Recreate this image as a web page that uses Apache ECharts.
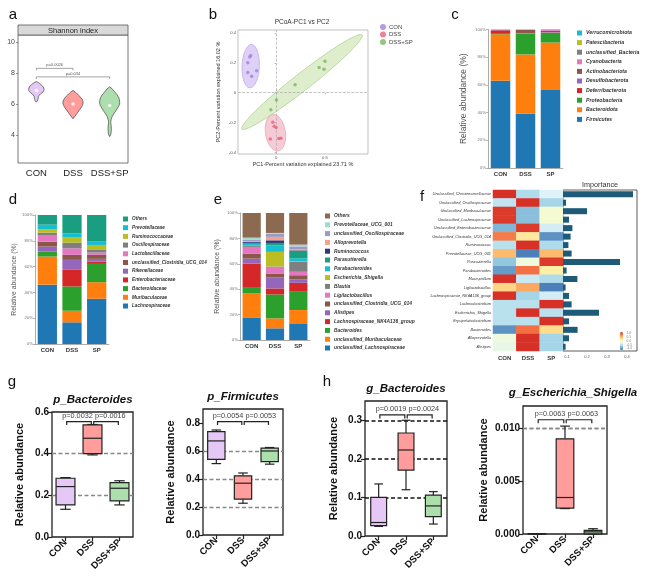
<!DOCTYPE html>
<html><head><meta charset="utf-8">
<script src="https://cdn.jsdelivr.net/npm/echarts@6/dist/echarts.min.js"></script>
<style>
html,body{margin:0;padding:0;background:#fff;width:651px;height:576px;overflow:hidden}
.p{position:absolute;left:0;top:0;width:651px;height:576px}
</style></head>
<body>
<div id="pa" class="p"></div><div id="pb" class="p"></div><div id="pc" class="p"></div>
<div id="pd" class="p"></div><div id="pe" class="p"></div><div id="pf" class="p"></div>
<div id="pg" class="p"></div><div id="ph" class="p"></div>
<script>
// ---------------- DATA ----------------
const groups = ['CON', 'DSS', 'DSS+SP'];
const barGroups = ['CON', 'DSS', 'SP'];

// a: Shannon violins, profile = [value, half-width (fraction of band)]
const shannonCON = [[6.12,0],[6.2,0.03],[6.35,0.05],[6.5,0.06],[6.65,0.11],[6.8,0.19],[6.95,0.21],[7.1,0.19],[7.25,0.13],[7.38,0.06],[7.45,0]];
const shannonDSS = [[5.05,0],[5.2,0.05],[5.4,0.11],[5.6,0.17],[5.8,0.23],[6.0,0.27],[6.2,0.27],[6.4,0.22],[6.6,0.14],[6.75,0.07],[6.88,0]];
const shannonSP = [[3.9,0],[4.0,0.025],[4.2,0.04],[4.4,0.045],[4.6,0.04],[4.8,0.03],[5.0,0.04],[5.2,0.07],[5.4,0.12],[5.6,0.18],[5.8,0.23],[6.0,0.27],[6.2,0.27],[6.4,0.25],[6.6,0.2],[6.8,0.13],[7.0,0.06],[7.1,0]];
const shannonMedians = [6.88, 6.0, 5.9];
const shannonTicks = [4, 6, 8, 10];
const shannonBrackets = [[0, 1, 8.3, 'p=0.0026'], [0, 2, 7.75, 'p=0.034']];

// b: PCoA
const pcoaCON = [[-0.27,0.24],[-0.26,0.25],[-0.29,0.20],[-0.29,0.135],[-0.25,0.11],[-0.20,0.147]];
const pcoaDSS = [[-0.034,-0.198],[-0.02,-0.225],[0.0,-0.232],[-0.06,-0.309],[0.027,-0.307],[0.05,-0.305]];
const pcoaSP = [[-0.054,-0.113],[0.003,-0.049],[0.194,0.053],[0.44,0.169],[0.49,0.158],[0.50,0.211]];
// ellipses: centre, major half-axis vector, minor half-axis vector (data units)
const ellipseCON = [[-0.26,0.178],[0.01,0.145],[0.088,-0.004]];
const ellipseDSS = [[-0.007,-0.267],[-0.03,0.122],[0.1,0.012]];
const ellipseSP = [[0.265,0.072],[0.615,0.315],[0.053,-0.045]];
const pcoaXTicks = [0, 0.5];
const pcoaYTicks = [-0.4, -0.2, 0, 0.2, 0.4];

// c: phylum
const phylumNames = ['Firmicutes','Bacteroidota','Proteobacteria','Deferribacterota','Desulfobacterota','Actinobacteriota','Cyanobacteria','unclassified_Bacteria','Patescibacteria','Verrucomicrobiota'];
const phylumValues = [
  [63.0, 39.1, 56.4],
  [33.5, 42.9, 34.2],
  [0.4, 14.9, 7.0],
  [2.5, 0.3, 0.2],
  [0.2, 0.3, 0.3],
  [0.2, 2.2, 0.9],
  [0.1, 0.1, 0.6],
  [0.1, 0.2, 0.4],
  [0, 0, 0],
  [0, 0, 0]
];

// d: family
const familyNames = ['Lachnospiraceae','Muribaculaceae','Bacteroidaceae','Enterobacteriaceae','Rikenellaceae','unclassified_Clostridia_UCG_014','Lactobacillaceae','Oscillospiraceae','Ruminococcaceae','Prevotellaceae','Others'];
const familyValues = [
  [46.0, 16.8, 35.1],
  [21.8, 9.0, 12.8],
  [3.8, 18.8, 14.2],
  [0.3, 12.9, 1.8],
  [3.6, 7.7, 2.1],
  [3.9, 3.9, 3.1],
  [4.6, 5.1, 1.8],
  [2.3, 4.4, 2.0],
  [2.6, 3.9, 3.9],
  [3.6, 3.3, 2.6],
  [7.5, 14.2, 20.6]
];

// e: genus
const genusNames = ['unclassified_Lachnospiraceae','unclassified_Muribaculaceae','Bacteroides','Lachnospiraceae_NK4A136_group','Alistipes','unclassified_Clostridia_UCG_014','Ligilactobacillus','Blautia','Escherichia_Shigella','Parabacteroides','Parasutterella','Ruminococcus','Alloprevotella','unclassified_Oscillospiraceae','Prevotellaceae_UCG_001','Others'];
const genusValues = [
  [17.8, 9.2, 12.6],
  [18.8, 7.8, 11.0],
  [4.5, 18.9, 14.4],
  [19.1, 4.7, 7.0],
  [3.9, 8.6, 2.6],
  [4.0, 3.2, 3.4],
  [5.2, 5.2, 2.7],
  [0.8, 0.3, 7.8],
  [0.1, 11.5, 0.3],
  [1.5, 5.2, 2.6],
  [0.8, 1.8, 5.8],
  [0.7, 2.1, 0.4],
  [0.5, 2.7, 0.6],
  [1.4, 2.6, 2.5],
  [1.5, 0.5, 1.4],
  [19.4, 15.7, 24.9]
];

// f: random forest heatmap + importance
const fRows = ['Unclassified_Christensenellaceae','Unclassified_Oscillospiraceae','Unclassified_Muribaculaceae','Unclassified_Lachnospiraceae','Unclassified_Enterobacteriaceae','Unclassified_Clostridia_UCG_014','Ruminococcus','Prevotellaceae_UCG_001','Parasutterella','Parabacteroides','Mucispirillum','Ligilactobacillus','Lachnospiraceae_NK4A136_group','Lachnoclostridium','Escherichia_Shigella','Erysipelatoclostridium','Bacteroides','Alloprevotella','Alistipes'];
const fHeat = [
  [1.15,-0.55,-0.3],
  [-0.45,1.15,-0.6],
  [1.1,-0.75,-0.1],
  [1.1,-0.75,-0.1],
  [-0.8,1.1,-0.35],
  [0.8,0.2,-1.0],
  [-0.5,1.15,-0.55],
  [0.5,-1.1,0.5],
  [-0.7,-0.15,1.1],
  [-0.95,0.85,0.15],
  [1.15,-0.4,-0.55],
  [0.35,0.6,-1.1],
  [1.15,-0.6,-0.35],
  [-0.5,-0.5,1.15],
  [-0.5,1.15,-0.5],
  [-0.5,-0.5,1.15],
  [-1.0,0.85,0.3],
  [-0.15,1.15,-0.6],
  [-0.2,1.15,-0.6]
];
const fImportance = [0.43,0.095,0.20,0.11,0.127,0.118,0.107,0.123,0.365,0.098,0.152,0.093,0.11,0.123,0.26,0.11,0.153,0.11,0.093];
const fImpTicks = [0.1, 0.2, 0.3, 0.4];
const fColorTicks = [-1, -0.5, 0, 0.5, 1];

// g/h: boxplots [min, Q1, median, Q3, max]
const gBacteroides = [[0.133,0.154,0.242,0.282,0.285],[0.394,0.40,0.474,0.538,0.54],[0.154,0.173,0.234,0.261,0.27]];
const gFirmicutes = [[0.51,0.54,0.672,0.738,0.75],[0.227,0.256,0.37,0.423,0.443],[0.506,0.524,0.60,0.62,0.625]];
const hBacteroides = [[0.025,0.027,0.035,0.10,0.135],[0.12,0.171,0.223,0.267,0.30],[0.031,0.05,0.078,0.106,0.115]];
const hEscherichia = [[0,0.00001,0.00002,0.00003,0.00004],[0.0024,0.00245,0.00345,0.009,0.0102],[0,0.00002,0.0002,0.00035,0.0005]];
const gBactBrackets = [[0,1,0.554,'p=0.0032'],[1,2,0.554,'p=0.0016']];
const gFirmBrackets = [[0,1,0.81,'p=0.0054'],[1,2,0.81,'p=0.0053']];
const hBactBrackets = [[0,1,0.314,'p=0.0019'],[1,2,0.314,'p=0.0024']];
const hEschBrackets = [[0,1,0.0108,'p=0.0063'],[1,2,0.0108,'p=0.0063']];
const gBactTicks = [0, 0.2, 0.4, 0.6];
const gFirmTicks = [0, 0.2, 0.4, 0.6, 0.8];
const hBactTicks = [0, 0.1, 0.2, 0.3];
const hEschTicks = [0, 0.005, 0.010];
const gBactLines = [0.2, 0.4];
const gFirmLines = [0.2, 0.4, 0.6];
const hBactLines = [0.1, 0.2, 0.3];
const hEschLines = [0.005, 0.010];

// ---------------- STYLE / HELPERS ----------------
const FONT = "'Liberation Sans', Arial, sans-serif";
const tab10 = ['#1f77b4','#ff7f0e','#2ca02c','#d62728','#9467bd','#8c564b','#e377c2','#7f7f7f','#bcbd22','#17becf'];
const groupFill = ['#e6c8f7','#ff9c9c','#addfad'];

function mk(id, opt) {
  const c = echarts.init(document.getElementById(id), null, {width: 651, height: 576});
  opt.animation = false;
  opt.textStyle = Object.assign({fontFamily: FONT}, opt.textStyle || {});
  c.setOption(opt);
}
function letter(t, x, y) {
  return {type: 'text', x: x, y: y, z: 100, style: {text: t, fontSize: 15, fontFamily: FONT, fill: '#111', align: 'center', verticalAlign: 'middle', textAlign: 'center', textVerticalAlign: 'middle'}};
}
function txt(t, x, y, size, extra) {
  return {type: 'text', x: x, y: y, z: 100, style: Object.assign({text: t, fontSize: size, fontFamily: FONT, fill: '#333', align: 'center', verticalAlign: 'middle', textAlign: 'center', textVerticalAlign: 'middle'}, extra || {})};
}
function bracketSeries(list, mode, o) {
  return {
    type: 'custom', xAxisIndex: o.xi || 0, yAxisIndex: o.yi || 0, z: 10, silent: true,
    data: list.map(b => [b[0], b[2]]),
    renderItem: function (params, api) {
      const b = list[params.dataIndex];
      const p1 = api.coord([b[0], b[2]]), p2 = api.coord([b[1], b[2]]);
      const inset = mode === 'split' ? 1.2 : 0;
      const x1 = p1[0] + inset, x2 = p2[0] - inset, y = p1[1];
      let tx = (x1 + x2) / 2, al = 'center';
      if (mode === 'split') { if (b[1] === 1) { tx = x2 + 1.5; al = 'right'; } else { tx = x1 + 1.3; al = 'left'; } }
      return {type: 'group', children: [
        {type: 'polyline', shape: {points: [[x1, y + o.tick], [x1, y], [x2, y], [x2, y + o.tick]]}, style: {stroke: o.color, lineWidth: o.lw, fill: 'none'}},
        {type: 'text', style: {text: b[3], x: tx, y: y - o.gap, align: al, textAlign: al, verticalAlign: 'bottom', textVerticalAlign: 'bottom', fontSize: o.fs, fontFamily: FONT, fill: o.tcolor}}
      ]};
    }
  };
}

// ---------------- PANEL A ----------------
(function () {
  const profiles = [shannonCON, shannonDSS, shannonSP];
  mk('pa', {
    grid: {left: 18, top: 35, width: 110, height: 128, show: true, borderColor: '#555', borderWidth: 0.8},
    xAxis: {type: 'category', data: groups, axisLine: {show: false}, axisTick: {show: false}, axisLabel: {interval: 0, fontSize: 9.5, color: '#222', margin: 5}},
    yAxis: {type: 'value', min: 2.2, max: 10.45, axisLine: {show: false},
      axisTick: {show: true, length: 2, customValues: shannonTicks, lineStyle: {color: '#555', width: 0.6}},
      axisLabel: {customValues: shannonTicks, fontSize: 7, color: '#444', margin: 3}, splitLine: {show: false}},
    graphic: [
      letter('a', 13, 15),
      {type: 'rect', shape: {x: 18, y: 25, width: 110, height: 10}, style: {fill: '#d9d9d9', stroke: '#555', lineWidth: 0.8}},
      txt('Shannon index', 73, 30.5, 7.5, {fill: '#222'})
    ],
    series: [
      {type: 'custom', silent: true, z: 2,
        data: profiles.map((p, i) => [i, shannonMedians[i]]),
        renderItem: function (params, api) {
          const i = params.dataIndex, prof = profiles[i];
          const bw = api.size([1, 0])[0];
          const cx = api.coord([i, 0])[0];
          const right = [], left = [];
          prof.forEach(function (pw) {
            const y = api.coord([i, pw[0]])[1];
            right.push([cx + pw[1] * bw, y]); left.unshift([cx - pw[1] * bw, y]);
          });
          return {type: 'polygon', shape: {points: right.concat(left), smooth: 0.35}, style: {fill: groupFill[i], stroke: '#444', lineWidth: 0.7}};
        }},
      {type: 'scatter', z: 5, silent: true, symbolSize: 3.5, itemStyle: {color: '#fff'}, data: shannonMedians.map((v, i) => [i, v])},
      bracketSeries(shannonBrackets, 'center', {tick: 2, color: '#666', lw: 0.6, fs: 4, gap: 1, tcolor: '#555'})
    ]
  });
})();

// ---------------- PANEL B ----------------
(function () {
  const ells = [ellipseCON, ellipseDSS, ellipseSP];
  const eFill = ['rgba(196,170,240,0.55)', 'rgba(240,160,180,0.55)', 'rgba(200,226,170,0.6)'];
  const eStroke = ['#b9a0e2', '#e59cae', '#a9cc8c'];
  const pc = ['#a57fe0', '#e8637e', '#7bb662'];
  const fmt = v => (v === 0 ? '0' : String(v));
  mk('pb', {
    grid: {left: 238, top: 30, width: 130, height: 124, show: true, borderColor: '#999', borderWidth: 0.6},
    xAxis: {type: 'value', min: -0.39, max: 0.94, name: 'PC1-Percent variation explained 23.71 %', nameLocation: 'middle', nameGap: 7,
      nameTextStyle: {fontSize: 5.5, color: '#333'}, axisLine: {show: false},
      axisTick: {show: true, length: 1.5, customValues: pcoaXTicks, lineStyle: {color: '#777', width: 0.5}},
      axisLabel: {customValues: pcoaXTicks, fontSize: 4.2, color: '#555', margin: 2, formatter: fmt}, splitLine: {show: false}},
    yAxis: {type: 'value', min: -0.41, max: 0.42, name: 'PC2-Percent variation explained 16.02 %', nameLocation: 'middle', nameGap: 17,
      nameTextStyle: {fontSize: 5.5, color: '#333'}, axisLine: {show: false},
      axisTick: {show: true, length: 1.5, customValues: pcoaYTicks, lineStyle: {color: '#777', width: 0.5}},
      axisLabel: {customValues: pcoaYTicks, fontSize: 4.2, color: '#555', margin: 2, formatter: fmt}, splitLine: {show: false}},
    legend: {left: 380, top: 24, orient: 'vertical', icon: 'circle', itemWidth: 6, itemHeight: 6, itemGap: 1.5, padding: 0,
      textStyle: {fontSize: 6, color: '#444', padding: [0, 0, 0, -2]}, data: groups},
    graphic: [letter('b', 213, 15), txt('PCoA-PC1 vs PC2', 302, 22, 6.5, {fill: '#333'})],
    series: [
      {type: 'custom', name: 'ellipse', silent: true, z: 1,
        data: ells.map(e => e[0]),
        renderItem: function (params, api) {
          const e = ells[params.dataIndex];
          const pts = [];
          for (let k = 0; k < 72; k++) {
            const t = k / 72 * Math.PI * 2;
            pts.push(api.coord([e[0][0] + Math.cos(t) * e[1][0] + Math.sin(t) * e[2][0], e[0][1] + Math.cos(t) * e[1][1] + Math.sin(t) * e[2][1]]));
          }
          return {type: 'polygon', shape: {points: pts}, style: {fill: eFill[params.dataIndex], stroke: eStroke[params.dataIndex], lineWidth: 0.7}};
        }},
      {type: 'scatter', name: 'CON', data: pcoaCON, symbolSize: 3.5, itemStyle: {color: pc[0]}, z: 5,
        markLine: {silent: true, symbol: 'none', label: {show: false}, lineStyle: {type: 'dashed', color: '#aaa', width: 0.7}, data: [{xAxis: 0}, {yAxis: 0}]}},
      {type: 'scatter', name: 'DSS', data: pcoaDSS, symbolSize: 3.5, itemStyle: {color: pc[1]}, z: 5},
      {type: 'scatter', name: 'DSS+SP', data: pcoaSP, symbolSize: 3.5, itemStyle: {color: pc[2]}, z: 5}
    ]
  });
})();

// ---------------- stacked bar helper (c, d, e) ----------------
function stackedPanel(id, L, names, values, colors, grid, legendPos, legendFs, legendLH, legendGap, nameFs, nameGap) {
  mk(id, {
    grid: grid,
    xAxis: {type: 'category', data: barGroups, axisLine: {lineStyle: {color: '#888', width: 0.7}}, axisTick: {length: 2, lineStyle: {color: '#888', width: 0.6}},
      axisLabel: {interval: 0, fontSize: 6, fontWeight: 'bold', color: '#333', margin: 3}},
    yAxis: {type: 'value', min: 0, max: 100, interval: 20, name: 'Relative abundance (%)', nameLocation: 'middle', nameGap: nameGap,
      nameTextStyle: {fontSize: nameFs, color: '#555'},
      axisLine: {show: true, lineStyle: {color: '#888', width: 0.7}}, axisTick: {show: true, length: 2, lineStyle: {color: '#888', width: 0.6}},
      axisLabel: {fontSize: 4.3, color: '#777', margin: 2, formatter: '{value}%'}, splitLine: {show: false}},
    legend: {left: legendPos[0], top: legendPos[1], orient: 'vertical', icon: 'rect', itemWidth: 5, itemHeight: 5, itemGap: legendGap, padding: 0,
      textStyle: {fontSize: legendFs, lineHeight: legendLH, fontStyle: 'italic', fontWeight: 'bold', color: '#333', padding: [0, 0, 0, -1]},
      data: names.slice().reverse()},
    graphic: [L],
    series: names.map((n, k) => ({type: 'bar', name: n, stack: 's', barWidth: '78%', data: values[k], itemStyle: {color: colors[k]}, silent: true}))
  });
}

stackedPanel('pc', letter('c', 455, 15), phylumNames, phylumValues, tab10,
  {left: 488, top: 29.5, width: 75, height: 138.5}, [577, 30], 5.2, 6, 3.6, 8.5, 20);

stackedPanel('pd', letter('d', 13, 200), familyNames, familyValues, tab10.concat(['#1a9e82']),
  {left: 35, top: 215, width: 74, height: 129}, [123, 216], 4.7, 6, 2.7, 6.8, 17);

stackedPanel('pe', letter('e', 218, 200), genusNames, genusValues,
  tab10.concat(['#1a9e82', '#2b3a7a', '#f7a08a', '#9b9bc6', '#a2dcc9', '#8c6a4f']),
  {left: 240, top: 213, width: 70, height: 127}, [325, 213], 4.9, 6, 2.8, 7, 19);

// ---------------- PANEL F ----------------
(function () {
  const heat = [];
  fHeat.forEach((r, ri) => r.forEach((v, ci) => heat.push([ci, ri, v])));
  mk('pf', {
    grid: [
      {left: 493, top: 190, width: 70, height: 161},
      {left: 563, top: 190, width: 74, height: 161, show: true, borderColor: '#333', borderWidth: 0.8},
      {left: 624, top: 332, width: 1, height: 18}
    ],
    xAxis: [
      {type: 'category', gridIndex: 0, data: barGroups, axisLine: {show: false}, axisTick: {show: false}, axisLabel: {interval: 0, fontSize: 6, fontWeight: 'bold', color: '#333', margin: 4}},
      {type: 'value', gridIndex: 1, min: 0.08, max: 0.45, axisLine: {show: false}, axisTick: {show: false}, splitLine: {show: false},
        axisLabel: {customValues: fImpTicks, fontSize: 4, color: '#555', margin: 4}},
      {type: 'value', gridIndex: 2, show: false}
    ],
    yAxis: [
      {type: 'category', gridIndex: 0, data: fRows, inverse: true, axisLine: {show: false}, axisTick: {show: false},
        axisLabel: {interval: 0, fontSize: 3.9, fontStyle: 'italic', color: '#333', margin: 2}},
      {type: 'category', gridIndex: 1, data: fRows, inverse: true, axisLine: {show: false}, axisTick: {show: false}, axisLabel: {show: false}},
      {type: 'value', gridIndex: 2, min: -1.2, max: 1.2, position: 'right', axisLine: {show: false}, axisTick: {show: false}, splitLine: {show: false},
        axisLabel: {customValues: fColorTicks, fontSize: 3.2, color: '#777', margin: 1.5, formatter: v => v.toFixed(1)}}
    ],
    visualMap: {type: 'continuous', min: -1.15, max: 1.15, seriesIndex: 0, calculable: false, show: true, itemWidth: 3, itemHeight: 18,
      left: 620, top: 332, padding: 0, hoverLink: false,
      inRange: {color: ['#4575b4', '#74add1', '#abd9e9', '#e0f3f8', '#ffffbf', '#fee090', '#fdae61', '#f46d43', '#d73027']}},
    graphic: [letter('f', 422, 197), txt('Importance', 600, 185.5, 7.2, {fill: '#333'})],
    series: [
      {type: 'heatmap', xAxisIndex: 0, yAxisIndex: 0, data: heat, silent: true},
      {type: 'bar', xAxisIndex: 1, yAxisIndex: 1, data: fImportance, barWidth: 6, itemStyle: {color: '#1d5b79'}, silent: true}
    ]
  });
})();

// ---------------- boxplot panels (g, h) ----------------
function boxSeries(vals, gi, ratio) {
  return {
    type: 'custom', xAxisIndex: gi, yAxisIndex: gi, silent: true, z: 5,
    data: vals.map((v, i) => [i].concat(v)),
    renderItem: function (params, api) {
      const i = params.dataIndex;
      const x = api.coord([i, 0])[0];
      const bw = api.size([1, 0])[0] * ratio;
      const y = k => api.coord([i, api.value(k)])[1];
      const yMin = y(1), yQ1 = y(2), yMed = y(3), yQ3 = y(4), yMax = y(5);
      const cap = bw * 0.55;
      const ls = {stroke: '#222', lineWidth: 1.2};
      return {type: 'group', children: [
        {type: 'line', shape: {x1: x, y1: yQ3, x2: x, y2: yMax}, style: ls},
        {type: 'line', shape: {x1: x, y1: yQ1, x2: x, y2: yMin}, style: ls},
        {type: 'line', shape: {x1: x - cap / 2, y1: yMax, x2: x + cap / 2, y2: yMax}, style: ls},
        {type: 'line', shape: {x1: x - cap / 2, y1: yMin, x2: x + cap / 2, y2: yMin}, style: ls},
        {type: 'rect', shape: {x: x - bw / 2, y: yQ3, width: bw, height: Math.max(yQ1 - yQ3, 0.1)}, style: {fill: groupFill[i], stroke: '#222', lineWidth: 1.2}},
        {type: 'line', shape: {x1: x - bw / 2, y1: yMed, x2: x + bw / 2, y2: yMed}, style: ls}
      ]};
    }
  };
}
function boxPanel(id, L, panels) {
  const grids = [], xs = [], ys = [], series = [], graphic = [L];
  panels.forEach((p, gi) => {
    grids.push({left: p.rect[0], top: p.rect[1], width: p.rect[2], height: p.rect[3], show: true, borderColor: '#222', borderWidth: 1.3});
    xs.push({type: 'category', gridIndex: gi, data: groups, axisLine: {show: false}, axisTick: {show: true, alignWithLabel: true, length: 4, lineStyle: {color: '#222', width: 1.2}},
      axisLabel: {interval: 0, rotate: 45, fontSize: 9.5, fontWeight: 'bold', color: '#111', margin: 4}});
    ys.push({type: 'value', gridIndex: gi, min: 0, max: p.max, name: 'Relative abundance', nameLocation: 'middle', nameGap: p.nameGap,
      nameTextStyle: {fontSize: 11, fontWeight: 'bold', color: '#111'},
      axisLine: {show: false}, axisTick: {show: true, length: 4, customValues: p.ticks, lineStyle: {color: '#222', width: 1.2}},
      axisLabel: {customValues: p.ticks, fontSize: 10, fontWeight: 'bold', color: '#111', margin: 3, formatter: v => v.toFixed(p.dec)},
      splitLine: {show: false}});
    const bs = boxSeries(p.data, gi, p.ratio);
    bs.markLine = {silent: true, symbol: 'none', label: {show: false}, z: 1,
      lineStyle: {type: [4, 2.5], color: p.lineColor, width: p.lineWidth}, data: p.lines.map(v => ({yAxis: v}))};
    series.push(bs);
    series.push(bracketSeries(p.brackets, 'split', {xi: gi, yi: gi, tick: 3.5, color: '#222', lw: 1.2, fs: 7.3, gap: 2, tcolor: '#444'}));
    graphic.push(txt(p.title, p.titlePos[0], p.titlePos[1], 11.5, {fontWeight: 'bold', fontStyle: 'italic', fill: '#111'}));
  });
  mk(id, {grid: grids, xAxis: xs, yAxis: ys, series: series, graphic: graphic});
}

boxPanel('pg', letter('g', 12, 382), [
  {rect: [52, 412, 81, 125], max: 0.6, ticks: gBactTicks, dec: 1, data: gBacteroides, brackets: gBactBrackets, lines: gBactLines,
    lineColor: '#888', lineWidth: 1.3, ratio: 0.7, nameGap: 27, title: 'p_Bacteroides', titlePos: [93, 400]},
  {rect: [203, 409, 80, 126], max: 0.9, ticks: gFirmTicks, dec: 1, data: gFirmicutes, brackets: gFirmBrackets, lines: gFirmLines,
    lineColor: '#888', lineWidth: 1.3, ratio: 0.65, nameGap: 27, title: 'p_Firmicutes', titlePos: [243, 397]}
]);

boxPanel('ph', letter('h', 327, 382), [
  {rect: [365, 401, 82, 135], max: 0.35, ticks: hBactTicks, dec: 1, data: hBacteroides, brackets: hBactBrackets, lines: hBactLines,
    lineColor: '#111', lineWidth: 1.5, ratio: 0.58, nameGap: 26, title: 'g_Bacteroides', titlePos: [406, 389]},
  {rect: [523, 406, 84, 128], max: 0.0121, ticks: hEschTicks, dec: 3, data: hEscherichia, brackets: hEschBrackets, lines: hEschLines,
    lineColor: '#888', lineWidth: 1.3, ratio: 0.63, nameGap: 34, title: 'g_Escherichia_Shigella', titlePos: [573, 393]}
]);
</script>
</body></html>
